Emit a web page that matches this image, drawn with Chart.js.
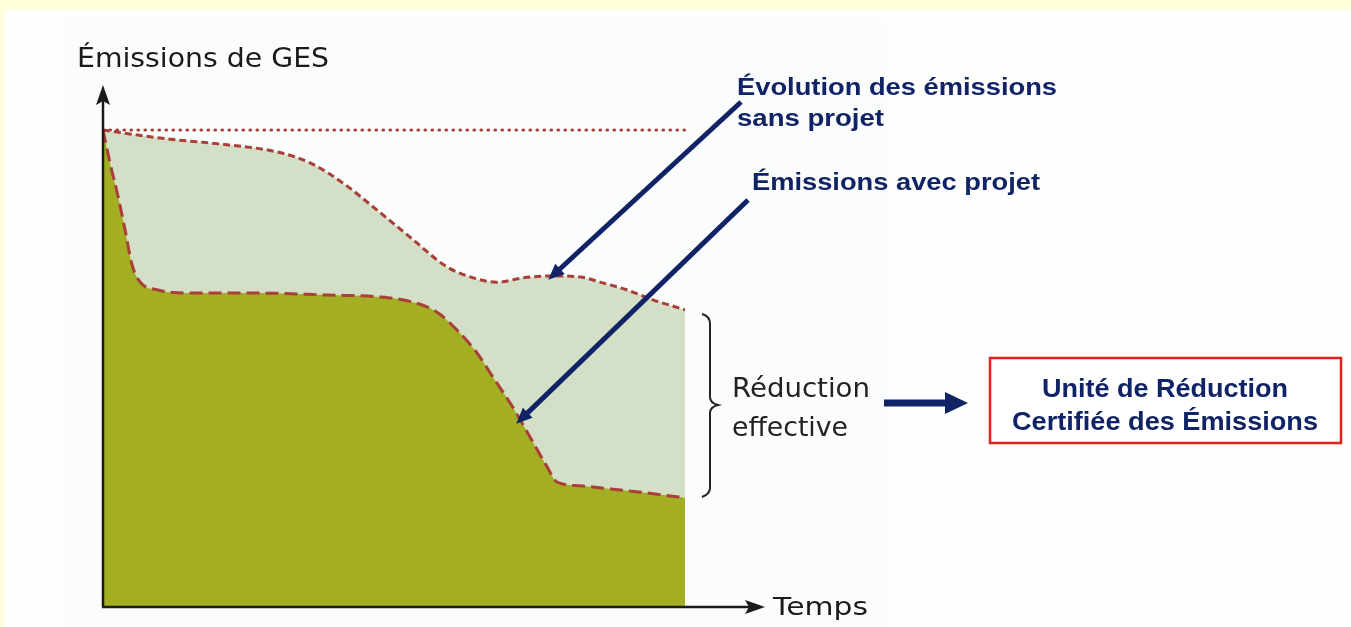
<!DOCTYPE html>
<html lang="fr">
<head>
<meta charset="utf-8">
<title>Émissions de GES</title>
<script src="https://cdn.jsdelivr.net/npm/chart.js@4.4.1/dist/chart.umd.min.js"></script>
<style>
  html, body { margin: 0; padding: 0; background: #FFFFDC; }
  #graphique { display: block; }
</style>
</head>
<body>
<canvas id="graphique" width="1351" height="627"></canvas>
<script>
// Courbe "sans projet" (temps en %, émissions en % du niveau initial)
const tempsSans = [0, 9.8, 21.3, 29.9, 35.6, 41.2, 47.1, 52.7, 59.1, 63.1, 67.7, 72.2, 77.3, 82.0, 85.4, 90.0, 94.5, 100];
const emissionsSans = [100, 98.3, 96.9, 95.4, 93.1, 88.9, 83.2, 77.6, 71.3, 69.2, 68.1, 69.0, 69.4, 69.2, 68.1, 66.5, 64.4, 62.3];

// Courbe "avec projet"
const tempsAvec = [0, 1.2, 2.6, 3.8, 5.0, 6.4, 9.3, 15.5, 27.0, 38.5, 47.6, 53.3, 57.4, 60.8, 64.3, 67.0, 70.4, 73.4, 76.3, 78.0, 82.0, 87.6, 93.5, 100];
const emissionsAvec = [100, 93.1, 86.0, 79.0, 71.7, 68.1, 66.5, 65.8, 65.8, 65.4, 65.0, 63.9, 61.8, 58.1, 53.2, 48.2, 41.9, 35.6, 29.4, 26.2, 25.4, 24.7, 23.9, 22.9];

// Niveau de référence (pointillés)
const tempsNiveau = [0, 100];
const emissionsNiveau = [100, 100];

// Points visés par les flèches
const cibleSans = { x: 76.5, y: 68.6 };
const cibleAvec = { x: 71.0, y: 38.4 };

const ROUGE = '#A83F38';
const MARINE = '#102366';

function points(xs, ys) {
    return xs.map((x, i) => ({ x: x, y: ys[i] }));
}

// texte étiré horizontalement à une largeur donnée
function texte(ctx, str, x, y, font, couleur, largeur, align) {
    ctx.save();
    ctx.font = font;
    ctx.fillStyle = couleur;
    ctx.textAlign = 'left';
    ctx.textBaseline = 'alphabetic';
    const w = ctx.measureText(str).width;
    const x0 = align === 'center' ? x - largeur / 2 : x;
    ctx.translate(x0, y);
    ctx.scale(largeur / w, 1);
    ctx.fillText(str, 0, 0);
    ctx.restore();
}

function fleche(ctx, x1, y1, x2, y2, epaisseur, longTete, largTete, couleur) {
    const ang = Math.atan2(y2 - y1, x2 - x1);
    const bx = x2 - Math.cos(ang) * longTete;
    const by = y2 - Math.sin(ang) * longTete;
    ctx.save();
    ctx.strokeStyle = couleur;
    ctx.fillStyle = couleur;
    ctx.lineWidth = epaisseur;
    ctx.lineCap = 'butt';
    ctx.beginPath();
    ctx.moveTo(x1, y1);
    ctx.lineTo(bx + Math.cos(ang) * 2, by + Math.sin(ang) * 2);
    ctx.stroke();
    ctx.beginPath();
    ctx.moveTo(x2, y2);
    ctx.lineTo(bx + Math.sin(ang) * largTete / 2, by - Math.cos(ang) * largTete / 2);
    ctx.lineTo(bx - Math.sin(ang) * largTete / 2, by + Math.cos(ang) * largTete / 2);
    ctx.closePath();
    ctx.fill();
    ctx.restore();
}

const fond = {
    id: 'fond',
    beforeDraw(chart) {
        const ctx = chart.ctx;
        ctx.save();
        ctx.fillStyle = '#FFFFDC';
        ctx.fillRect(0, 0, chart.width, chart.height);
        ctx.fillStyle = '#FEFEFE';
        ctx.fillRect(4, 10, chart.width - 4, chart.height - 10);
        ctx.fillStyle = '#FBFCFC';
        ctx.fillRect(62, 17, 824, chart.height - 17);
        ctx.restore();
    }
};

const decor = {
    id: 'decor',
    afterDatasetsDraw(chart) {
        const ctx = chart.ctx;
        const area = chart.chartArea;
        const sx = chart.scales.x;
        const sy = chart.scales.y;

        // axes avec flèches
        ctx.save();
        ctx.strokeStyle = '#1B1B1B';
        ctx.fillStyle = '#1B1B1B';
        ctx.lineWidth = 2.5;
        ctx.beginPath();
        ctx.moveTo(area.left, area.bottom);
        ctx.lineTo(area.left, area.top + 14);
        ctx.moveTo(area.left - 1, area.bottom);
        ctx.lineTo(area.right - 14, area.bottom);
        ctx.stroke();
        ctx.beginPath();
        ctx.moveTo(area.left, area.top);
        ctx.lineTo(area.left - 7, area.top + 20);
        ctx.lineTo(area.left, area.top + 16);
        ctx.lineTo(area.left + 7, area.top + 20);
        ctx.closePath();
        ctx.fill();
        ctx.beginPath();
        ctx.moveTo(area.right, area.bottom);
        ctx.lineTo(area.right - 20, area.bottom - 7);
        ctx.lineTo(area.right - 16, area.bottom);
        ctx.lineTo(area.right - 20, area.bottom + 7);
        ctx.closePath();
        ctx.fill();
        ctx.restore();

        // titres des axes
        texte(ctx, 'Émissions de GES', 77, 67, '27px "DejaVu Sans"', '#1A1A1A', 252, 'left');
        texte(ctx, 'Temps', 773, 615, '25px "DejaVu Sans"', '#1A1A1A', 95, 'left');

        // accolade
        ctx.save();
        ctx.strokeStyle = '#222222';
        ctx.lineWidth = 2;
        ctx.beginPath();
        ctx.moveTo(702, 314);
        ctx.quadraticCurveTo(710, 316, 710, 324);
        ctx.lineTo(710, 397);
        ctx.quadraticCurveTo(710, 403, 718, 405);
        ctx.quadraticCurveTo(710, 407, 710, 413);
        ctx.lineTo(710, 488);
        ctx.quadraticCurveTo(710, 494, 702, 497);
        ctx.stroke();
        ctx.restore();

        texte(ctx, 'Réduction', 732, 397, '27px "DejaVu Sans"', '#222222', 138, 'left');
        texte(ctx, 'effective', 732, 436, '27px "DejaVu Sans"', '#222222', 116, 'left');

        // flèche vers l'encadré
        fleche(ctx, 884, 403, 968, 403, 7, 23, 22, MARINE);

        // encadré
        ctx.save();
        ctx.fillStyle = '#FFFFFF';
        ctx.fillRect(990, 358, 351, 85);
        ctx.strokeStyle = '#E3211B';
        ctx.lineWidth = 2.5;
        ctx.strokeRect(990, 358, 351, 85);
        ctx.restore();
        texte(ctx, 'Unité de Réduction', 1165, 397, 'bold 25px "Liberation Sans"', MARINE, 246, 'center');
        texte(ctx, 'Certifiée des Émissions', 1165, 430, 'bold 25px "Liberation Sans"', MARINE, 306, 'center');

        // annotations
        texte(ctx, 'Évolution des émissions', 737, 95, 'bold 23px "Liberation Sans"', MARINE, 320, 'left');
        texte(ctx, 'sans projet', 737, 126, 'bold 23px "Liberation Sans"', MARINE, 147, 'left');
        texte(ctx, 'Émissions avec projet', 752, 190, 'bold 23px "Liberation Sans"', MARINE, 288, 'left');

        fleche(ctx, 741, 102, sx.getPixelForValue(cibleSans.x), sy.getPixelForValue(cibleSans.y), 5, 16, 14, MARINE);
        fleche(ctx, 748, 200, sx.getPixelForValue(cibleAvec.x), sy.getPixelForValue(cibleAvec.y), 5, 16, 14, MARINE);
    }
};

const ctx = document.getElementById('graphique').getContext('2d');

new Chart(ctx, {
    type: 'line',
    data: {
        datasets: [
            {
                label: 'Émissions avec projet',
                data: points(tempsAvec, emissionsAvec),
                borderColor: ROUGE,
                borderWidth: 3,
                borderDash: [13, 6],
                backgroundColor: '#A4AE22',
                fill: 'origin',
                pointRadius: 0,
                cubicInterpolationMode: 'monotone'
            },
            {
                label: 'Évolution des émissions sans projet',
                data: points(tempsSans, emissionsSans),
                borderColor: ROUGE,
                borderWidth: 3,
                borderDash: [7, 4],
                backgroundColor: '#D3DFC6',
                fill: 'origin',
                pointRadius: 0,
                cubicInterpolationMode: 'monotone'
            },
            {
                label: 'Niveau initial',
                data: points(tempsNiveau, emissionsNiveau),
                borderColor: ROUGE,
                borderWidth: 3.2,
                borderDash: [0.5, 6.5],
                borderCapStyle: 'round',
                fill: false,
                pointRadius: 0
            }
        ]
    },
    options: {
        responsive: false,
        animation: false,
        layout: { padding: { left: 103, right: 586, top: 85, bottom: 20 } },
        scales: {
            x: { type: 'linear', min: 0, max: 113.75, display: false },
            y: { min: 0, max: 109.43, display: false }
        },
        plugins: {
            legend: { display: false },
            tooltip: { enabled: false }
        }
    },
    plugins: [fond, decor]
});
</script>
</body>
</html>
